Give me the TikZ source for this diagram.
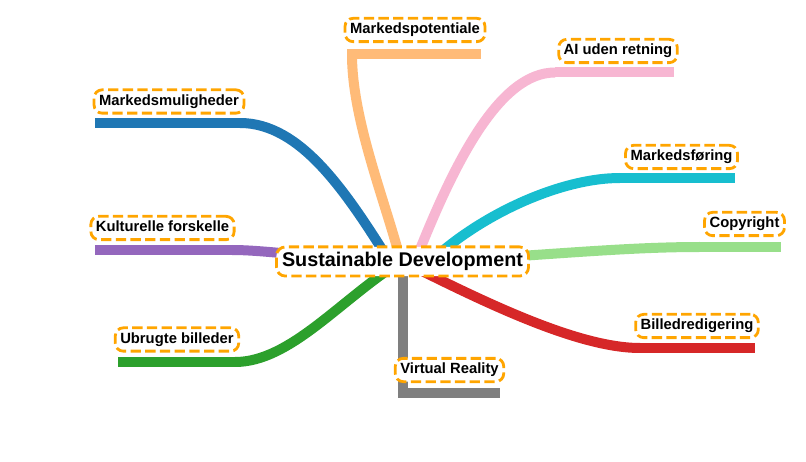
\documentclass[tikz,border=0pt]{standalone}
\usepackage{fontspec}
\setmainfont{Liberation Sans}
\definecolor{cBlue}{HTML}{1F77B4}
\definecolor{cOrange}{HTML}{FFBB78}
\definecolor{cPink}{HTML}{F7B6D2}
\definecolor{cCyan}{HTML}{17BECF}
\definecolor{cLime}{HTML}{98DF8A}
\definecolor{cRed}{HTML}{D62728}
\definecolor{cGray}{HTML}{7F7F7F}
\definecolor{cGreen}{HTML}{2CA02C}
\definecolor{cPurple}{HTML}{9467BD}
\definecolor{frameorange}{HTML}{FFA500}
\begin{document}
\begin{tikzpicture}[x=1pt,y=-1pt,
  branch/.style={line width=10pt},
  tagbox/.style={draw=frameorange, fill=white, line width=2.8pt,
    dash pattern=on 10.3pt off 4.4pt, rounded corners=8pt,
    inner xsep=5pt, inner ysep=4.6pt,
    font=\fontsize{14.8}{17}\selectfont\bfseries,
    text height=10.9pt, text depth=3.2pt},
  hubbox/.style={tagbox, rounded corners=9pt, inner xsep=5.6pt, inner ysep=5.2pt,
    font=\fontsize{19.8}{23}\selectfont\bfseries,
    text height=14.6pt, text depth=4.2pt}]
\useasboundingbox (0,0) rectangle (806,462);

% points where the branches leave the central topic
\coordinate (r1) at (390,262);
\coordinate (r2) at (401,262);
\coordinate (r3) at (415,262);
\coordinate (r4) at (430,262);
\coordinate (r5) at (420,262);
\coordinate (r6) at (410,265);
\coordinate (r7) at (403,262);
\coordinate (r8) at (400,262);
\coordinate (r9) at (403,262);

% where each curve meets its straight underline, and the underline's far end
\coordinate (j1) at (240,123);   \coordinate (t1) at (95,123);
\coordinate (j2) at (352,54.5);  \coordinate (k2) at (347,54.5); \coordinate (t2) at (481,54.5);
\coordinate (j3) at (555,72.5);  \coordinate (t3) at (674,72.5);
\coordinate (j4) at (620,178);   \coordinate (t4) at (735,178);
\coordinate (j5) at (700,247);   \coordinate (t5) at (781,247);
\coordinate (j6) at (640,348);   \coordinate (t6) at (755,348);
\coordinate (j7) at (403,392.5); \coordinate (k7) at (398,392.5); \coordinate (t7) at (500,392.5);
\coordinate (j8) at (235,362);   \coordinate (t8) at (118,362);
\coordinate (j9) at (232,250);   \coordinate (t9) at (95,250);

% branches
\draw[branch, cBlue] (r1) .. controls (345,190) and (300,123) .. (j1);
\draw[branch, cBlue] (j1) -- (t1);
\draw[branch, cOrange] (r2) .. controls (385,200) and (352,120) .. (j2);
\draw[branch, cOrange] (k2) -- (t2);
\draw[branch, cPink] (r3) .. controls (455,160) and (500,72.5) .. (j3);
\draw[branch, cPink] (j3) -- (t3);
\draw[branch, cCyan] (r4) .. controls (480,215) and (560,178) .. (j4);
\draw[branch, cCyan] (j4) -- (t4);
\draw[branch, cLime] (r5) .. controls (540,256) and (620,247) .. (j5);
\draw[branch, cLime] (j5) -- (t5);
\draw[branch, cRed] (r6) .. controls (490,305) and (580,348) .. (j6);
\draw[branch, cRed] (j6) -- (t6);
\draw[branch, cGray] (r7) -- (j7);
\draw[branch, cGray] (k7) -- (t7);
\draw[branch, cGreen] (r8) .. controls (340,300) and (290,362) .. (j8);
\draw[branch, cGreen] (j8) -- (t8);
\draw[branch, cPurple] (r9) .. controls (330,260) and (270,250) .. (j9);
\draw[branch, cPurple] (j9) -- (t9);

% central topic
\node[hubbox] (hub) at (402.5,261.5) {Sustainable Development};

% labels
\node[tagbox] (n1) at (169,101.5) {Markedsmuligheder};
\node[tagbox] (n2) at (415,30) {Markedspotentiale};
\node[tagbox] (n3) at (618,51) {AI uden retning};
\node[tagbox] (n4) at (681.5,157) {Markedsføring};
\node[tagbox] (n5) at (744.5,224) {Copyright};
\node[tagbox] (n6) at (697,326) {Billedredigering};
\node[tagbox] (n7) at (449.5,370) {Virtual Reality};
\node[tagbox] (n8) at (177,339.5) {Ubrugte billeder};
\node[tagbox] (n9) at (162.5,228) {Kulturelle forskelle};
\end{tikzpicture}
\end{document}
